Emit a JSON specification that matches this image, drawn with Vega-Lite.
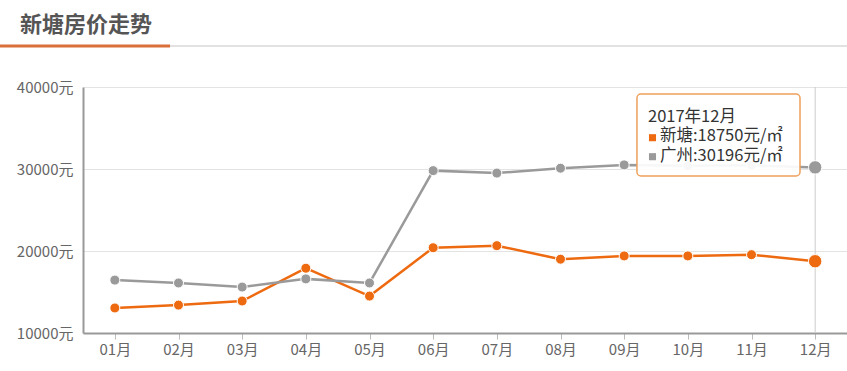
{
  "$schema": "https://vega.github.io/schema/vega-lite/v6.json",
  "width": 764,
  "height": 246,
  "autosize": {"type": "none"},
  "padding": {"left": 83, "top": 87, "right": 0, "bottom": 38},
  "background": "white",
  "config": {
    "view": {"stroke": null},
    "font": "Noto Sans CJK SC"
  },
  "datasets": {
    "prices": [
      {"month": 1, "series": "新塘", "value": 13050},
      {"month": 2, "series": "新塘", "value": 13400},
      {"month": 3, "series": "新塘", "value": 13900},
      {"month": 4, "series": "新塘", "value": 17900},
      {"month": 5, "series": "新塘", "value": 14500},
      {"month": 6, "series": "新塘", "value": 20400},
      {"month": 7, "series": "新塘", "value": 20650},
      {"month": 8, "series": "新塘", "value": 19000},
      {"month": 9, "series": "新塘", "value": 19400},
      {"month": 10, "series": "新塘", "value": 19400},
      {"month": 11, "series": "新塘", "value": 19550},
      {"month": 12, "series": "新塘", "value": 18750},
      {"month": 1, "series": "广州", "value": 16450},
      {"month": 2, "series": "广州", "value": 16100},
      {"month": 3, "series": "广州", "value": 15600},
      {"month": 4, "series": "广州", "value": 16600},
      {"month": 5, "series": "广州", "value": 16100},
      {"month": 6, "series": "广州", "value": 29800},
      {"month": 7, "series": "广州", "value": 29500},
      {"month": 8, "series": "广州", "value": 30100},
      {"month": 9, "series": "广州", "value": 30500},
      {"month": 10, "series": "广州", "value": 30400},
      {"month": 11, "series": "广州", "value": 30450},
      {"month": 12, "series": "广州", "value": 30196}
    ],
    "one": [{}]
  },
  "layer": [
    {
      "data": {"name": "one"},
      "mark": {"type": "rule", "color": "#e2e2e2", "strokeWidth": 2},
      "encoding": {
        "x": {"datum": 1.867, "type": "quantitative"},
        "x2": {"datum": 12.5},
        "y": {"datum": 45000, "type": "quantitative"}
      }
    },
    {
      "data": {"name": "one"},
      "mark": {"type": "rule", "color": "#d9703a", "strokeWidth": 3},
      "encoding": {
        "x": {"datum": -0.804, "type": "quantitative"},
        "x2": {"datum": 1.867},
        "y": {"datum": 45000, "type": "quantitative"}
      }
    },
    {
      "data": {"name": "one"},
      "mark": {"type": "text", "align": "left", "baseline": "alphabetic", "fontSize": 22, "fontWeight": "bold", "color": "#555555", "font": "Noto Sans CJK SC", "text": "新塘房价走势"},
      "encoding": {
        "x": {"datum": -0.49, "type": "quantitative"},
        "y": {"datum": 46700, "type": "quantitative"}
      }
    },
    {
      "data": {"name": "one"},
      "mark": {"type": "rule", "color": "#cccccc", "strokeWidth": 1},
      "encoding": {
        "x": {"datum": 12, "type": "quantitative"},
        "y": {"datum": 10000, "type": "quantitative"},
        "y2": {"datum": 40000}
      }
    },
    {
      "data": {"name": "prices"},
      "mark": {"type": "line", "strokeWidth": 2.5},
      "encoding": {
        "x": {
          "field": "month",
          "type": "quantitative",
          "scale": {"domain": [0.5, 12.5], "nice": false, "zero": false},
          "axis": {
            "title": null,
            "values": [1,2,3,4,5,6,7,8,9,10,11,12],
            "labelExpr": "(datum.value < 10 ? '0' : '') + datum.value + '月'",
            "grid": false,
            "domainColor": "#999999",
            "domainWidth": 2,
            "tickColor": "#bbbbbb",
            "tickSize": 6,
            "labelFontSize": 15,
            "labelColor": "#666666",
            "labelPadding": 3,
            "labelFont": "Noto Sans CJK SC"
          }
        },
        "y": {
          "field": "value",
          "type": "quantitative",
          "scale": {"domain": [10000, 40000], "nice": false, "zero": false},
          "axis": {
            "title": null,
            "values": [10000, 20000, 30000, 40000],
            "labelExpr": "datum.value + '元'",
            "grid": true,
            "gridColor": "#e3e3e3",
            "gridWidth": 1,
            "domainColor": "#999999",
            "domainWidth": 2,
            "ticks": false,
            "labelFontSize": 15,
            "labelColor": "#666666",
            "labelPadding": 10,
            "labelFont": "Noto Sans CJK SC"
          }
        },
        "color": {
          "field": "series",
          "type": "nominal",
          "scale": {"domain": ["新塘", "广州"], "range": ["#ee6a10", "#9a9a9a"]},
          "legend": null
        }
      }
    },
    {
      "data": {"name": "prices"},
      "mark": {"type": "point", "filled": true, "opacity": 1, "stroke": "white", "strokeWidth": 1},
      "encoding": {
        "x": {"field": "month", "type": "quantitative"},
        "y": {"field": "value", "type": "quantitative"},
        "color": {"field": "series", "type": "nominal", "legend": null},
        "size": {"condition": {"test": "datum.month == 12", "value": 180}, "value": 100}
      }
    },
    {
      "data": {"name": "one"},
      "mark": {"type": "rect", "fill": "white", "fillOpacity": 0.92, "stroke": "#eea05a", "strokeWidth": 1.5, "cornerRadius": 4},
      "encoding": {
        "x": {"datum": 9.201, "type": "quantitative"},
        "x2": {"datum": 11.762},
        "y": {"datum": 39146, "type": "quantitative"},
        "y2": {"datum": 29146}
      }
    },
    {
      "data": {"name": "one"},
      "mark": {"type": "text", "align": "left", "baseline": "alphabetic", "fontSize": 16.5, "color": "#333333", "font": "Noto Sans CJK SC", "text": "2017年12月"},
      "encoding": {
        "x": {"datum": 9.374, "type": "quantitative"},
        "y": {"datum": 35732, "type": "quantitative"}
      }
    },
    {
      "data": {"name": "one"},
      "mark": {"type": "text", "align": "left", "baseline": "alphabetic", "fontSize": 16.5, "color": "#333333", "font": "Noto Sans CJK SC", "text": "新塘:18750元/㎡"},
      "encoding": {
        "x": {"datum": 9.563, "type": "quantitative"},
        "y": {"datum": 33415, "type": "quantitative"}
      }
    },
    {
      "data": {"name": "one"},
      "mark": {"type": "text", "align": "left", "baseline": "alphabetic", "fontSize": 16.5, "color": "#333333", "font": "Noto Sans CJK SC", "text": "广州:30196元/㎡"},
      "encoding": {
        "x": {"datum": 9.563, "type": "quantitative"},
        "y": {"datum": 30976, "type": "quantitative"}
      }
    },
    {
      "data": {"name": "one"},
      "mark": {"type": "square", "filled": true, "opacity": 1, "size": 50, "color": "#ee6a10"},
      "encoding": {
        "x": {"datum": 9.445, "type": "quantitative"},
        "y": {"datum": 33817, "type": "quantitative"}
      }
    },
    {
      "data": {"name": "one"},
      "mark": {"type": "square", "filled": true, "opacity": 1, "size": 50, "color": "#9a9a9a"},
      "encoding": {
        "x": {"datum": 9.445, "type": "quantitative"},
        "y": {"datum": 31500, "type": "quantitative"}
      }
    }
  ]
}
